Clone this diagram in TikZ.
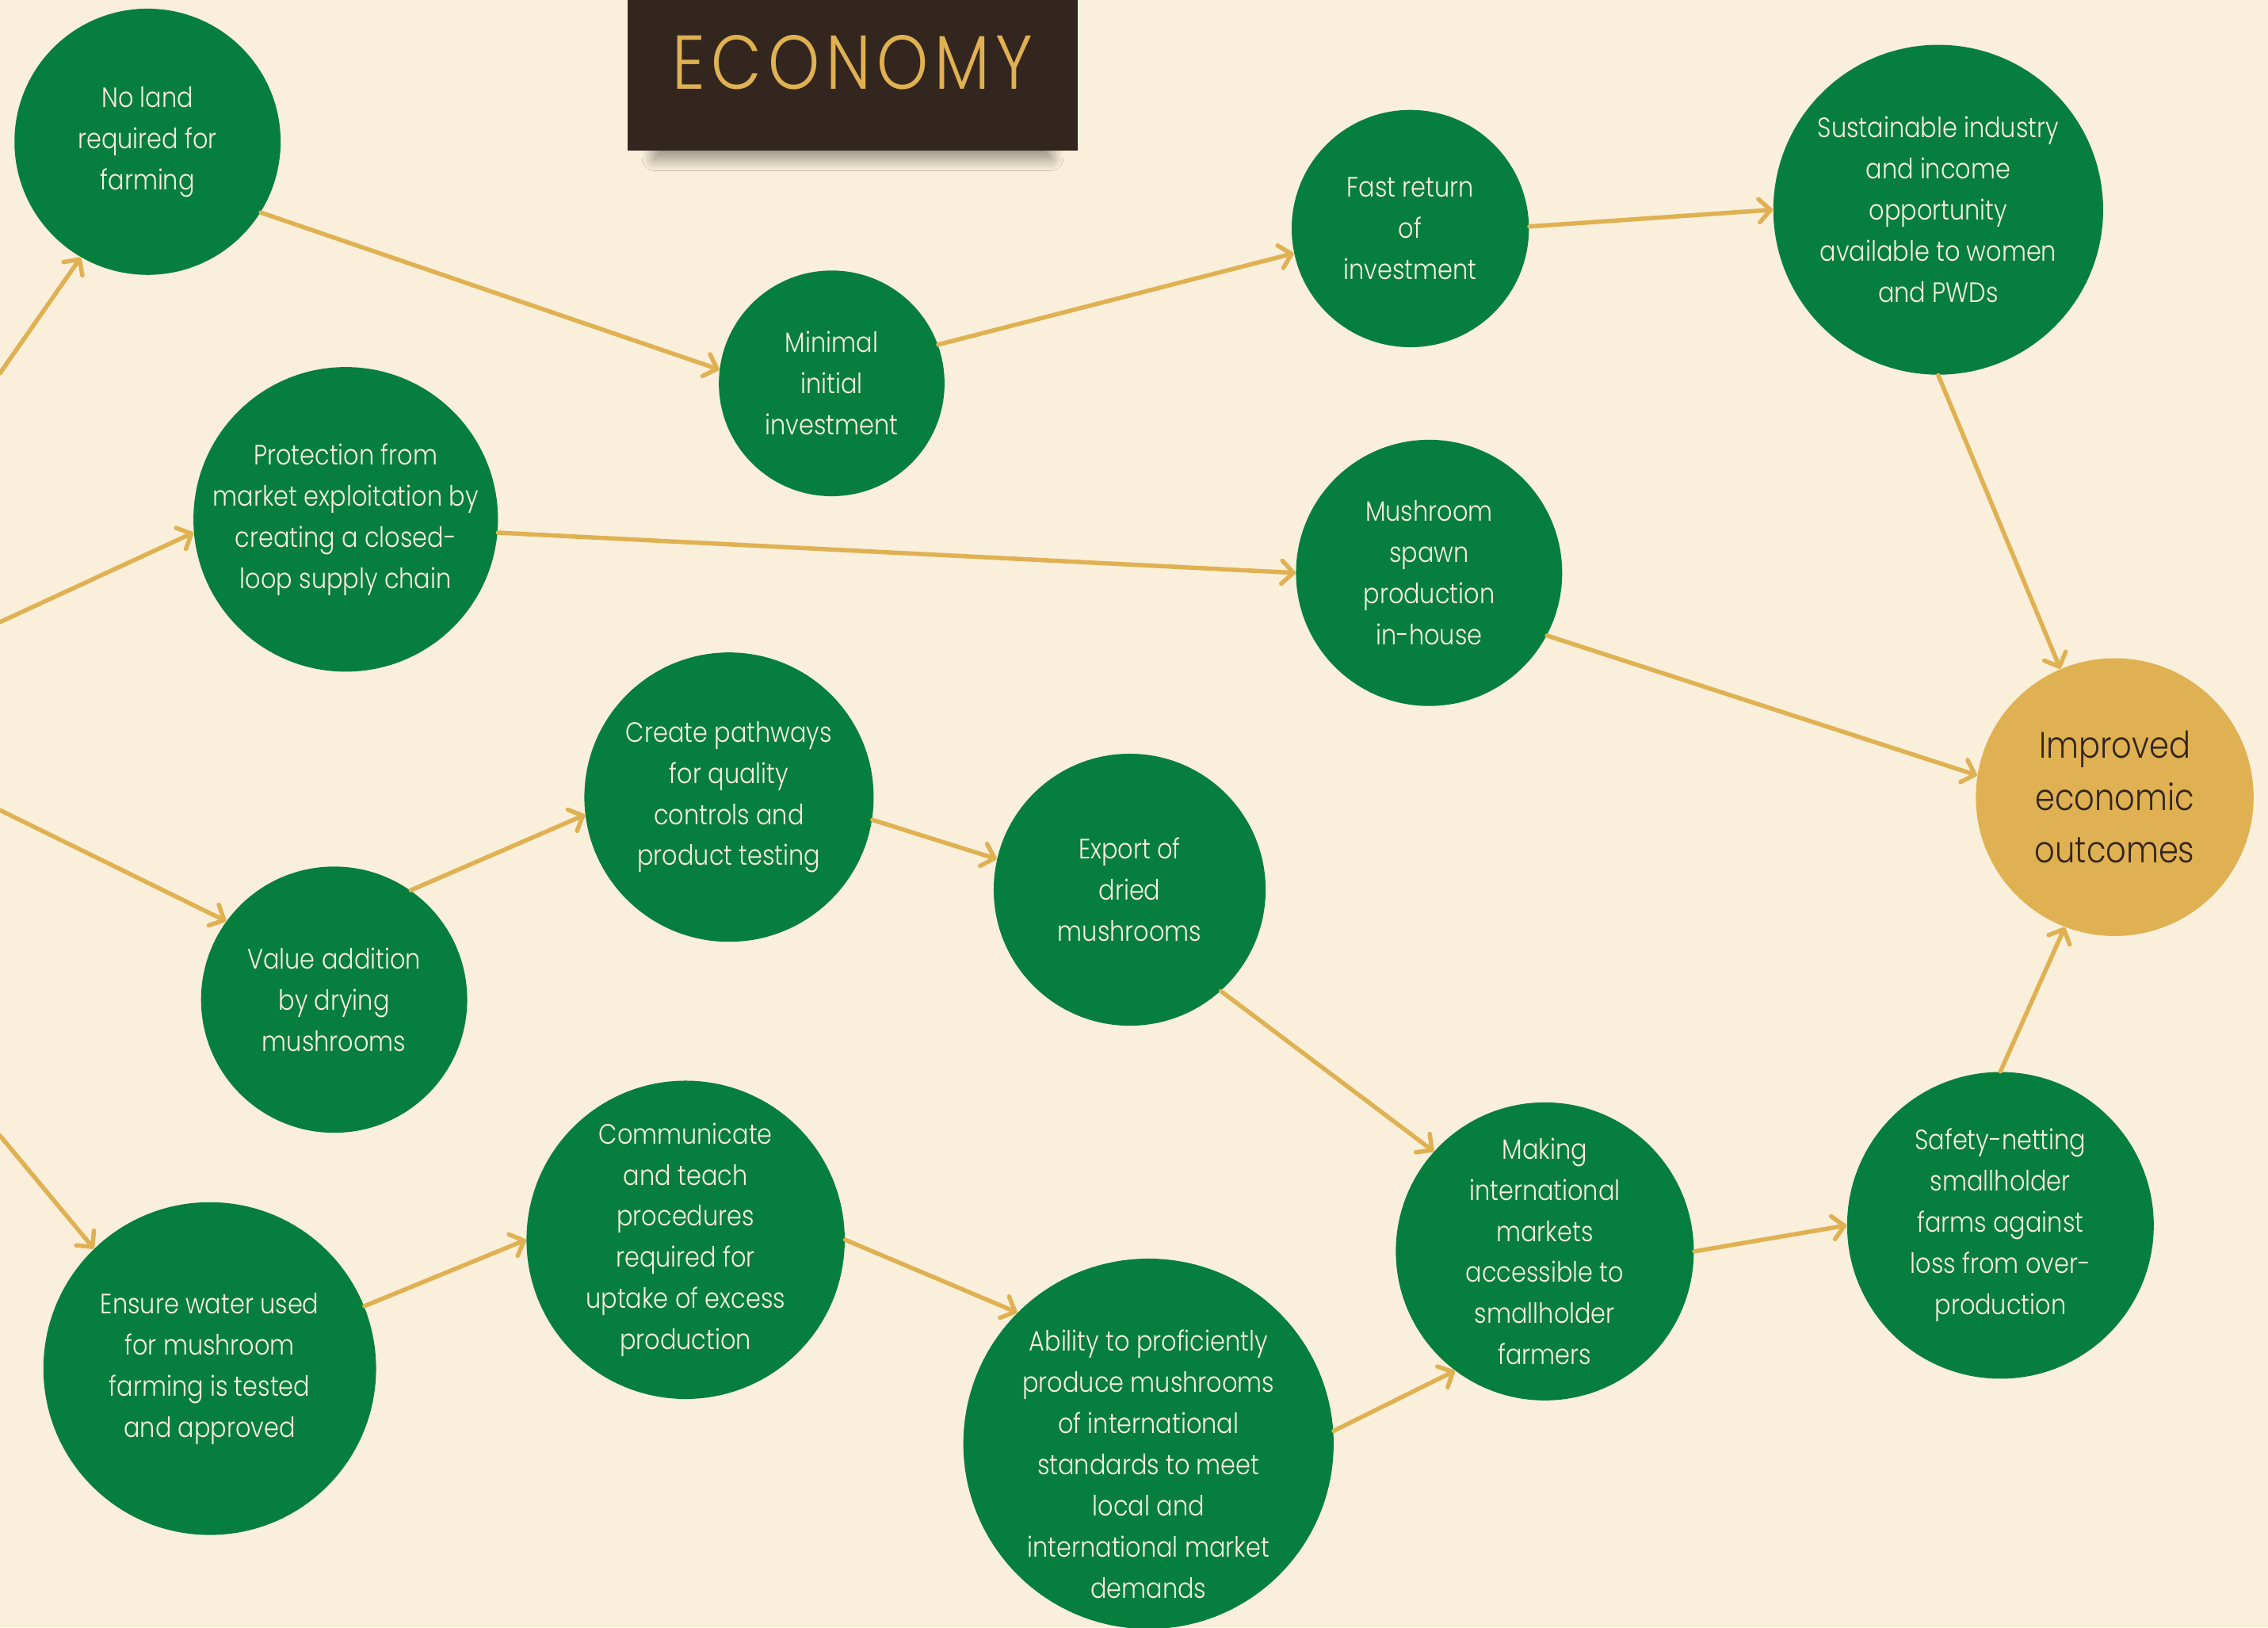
\documentclass[tikz,border=0pt]{standalone}
\usepackage{fontspec}
\setmainfont{Poppins Light}[FakeStretch=0.86]
\usepackage{tikz}
\usetikzlibrary{arrows.meta,shadows.blur}
\definecolor{ecogreen}{HTML}{067F3E}
\definecolor{ecogold}{HTML}{E0B152}
\definecolor{ecocream}{HTML}{F9EFDA}
\definecolor{ecobrown}{HTML}{32261F}
\tikzset{eco/.style={circle,fill=ecogreen,text=ecocream,align=center,inner sep=0pt,
  font=\fontsize{11}{16.2}\selectfont}}
\tikzset{flow/.style={-{Straight Barb[length=1.6mm,width=3.2mm,round]},ecogold,
  line width=0.6mm,line cap=round}}

\begin{document}
\begin{tikzpicture}
\useasboundingbox (0,0) rectangle (31.36,-22.5);
\fill[ecocream] (0,0) rectangle (31.36,-22.5);
%
\node (title) [fill=ecobrown,text=ecogold,minimum width=6.22cm,minimum height=2.08cm,
  text depth=3.6mm,font=\fontsize{30}{30}\selectfont\addfontfeatures{LetterSpace=8},
  blur shadow={shadow xshift=0mm,shadow yshift=-2.6mm,shadow scale=0.88,
    shadow blur radius=2mm,shadow blur steps=24,shadow opacity=45}]
  at (11.79,-1.04) {ECONOMY};
%
\node (noland) [eco,minimum size=3.68cm] at (2.04,-1.96) {No land\\required for\\farming};
\node (minimal) [eco,minimum size=3.12cm] at (11.5,-5.3) {Minimal\\initial\\investment};
\node (fastret) [eco,minimum size=3.28cm] at (19.5,-3.16) {Fast return\\of\\investment};
\node (sustain) [eco,minimum size=4.56cm] at (26.8,-2.9) {Sustainable industry\\and income\\opportunity\\available to women\\and PWDs};
\node (protect) [eco,minimum size=4.2cm] at (4.78,-7.18) {Protection from\\market exploitation by\\creating a closed-\\loop supply chain};
\node (spawn) [eco,minimum size=3.68cm] at (19.76,-7.92) {Mushroom\\spawn\\production\\in-house};
\node (improved) [eco,fill=ecogold,text=ecobrown,minimum size=3.84cm,
  font=\fontsize{14.5}{20.5}\selectfont] at (29.24,-11.02) {Improved\\economic\\outcomes};
\node (pathways) [eco,minimum size=4cm] at (10.08,-11.02) {Create pathways\\for quality\\controls and\\product testing};
\node (export) [eco,minimum size=3.76cm] at (15.62,-12.3) {Export of\\dried\\mushrooms};
\node (value) [eco,minimum size=3.68cm] at (4.62,-13.82) {Value addition\\by drying\\mushrooms};
\node (commun) [eco,minimum size=4.4cm] at (9.48,-17.14) {Communicate\\and teach\\procedures\\required for\\uptake of excess\\production};
\node (water) [eco,minimum size=4.6cm] at (2.9,-18.92) {Ensure water used\\for mushroom\\farming is tested\\and approved};
\node (ability) [eco,minimum size=5.12cm] at (15.88,-19.96) {};
\node (abilitytext) [eco,fill=none] at ([yshift=-2.8mm]ability.center) {Ability to proficiently\\produce mushrooms\\of international\\standards to meet\\local and\\international market\\demands};
\node (markets) [eco,minimum size=4.12cm] at (21.36,-17.3) {Making\\international\\markets\\accessible to\\smallholder\\farmers};
\node (safety) [eco,minimum size=4.24cm] at (27.66,-16.94) {Safety-netting\\smallholder\\farms against\\loss from over-\\production};
%
\coordinate (in1) at (0,-5.16);
\coordinate (in2) at (0,-8.6);
\coordinate (in3) at (0,-11.2);
\coordinate (in4) at (0,-15.7);
%
\path[flow] (in1) edge (noland.240);
\path[flow] (noland.-32) edge (minimal.173);
\path[flow] (minimal.20) edge (fastret.192);
\path[flow] (fastret.1) edge (sustain.180);
\path[flow] (sustain.-90) edge (improved.113);
\path[flow] (in2) edge (protect.185);
\path[flow] (protect.-5) edge (spawn.180);
\path[flow] (spawn.-28) edge (improved.171);
\path[flow] (in3) edge (value.144);
\path[flow] (value.55) edge (pathways.187);
\path[flow] (pathways.-9) edge (export.167);
\path[flow] (export.-48) edge (markets.138);
\path[flow] (in4) edge (water.134);
\path[flow] (water.22) edge (commun.180);
\path[flow] (commun.0) edge (ability.135);
\path[flow] (ability.4) edge (markets.233);
\path[flow] (markets.0) edge (safety.180);
\path[flow] (safety.90) edge (improved.249);
\end{tikzpicture}
\end{document}
